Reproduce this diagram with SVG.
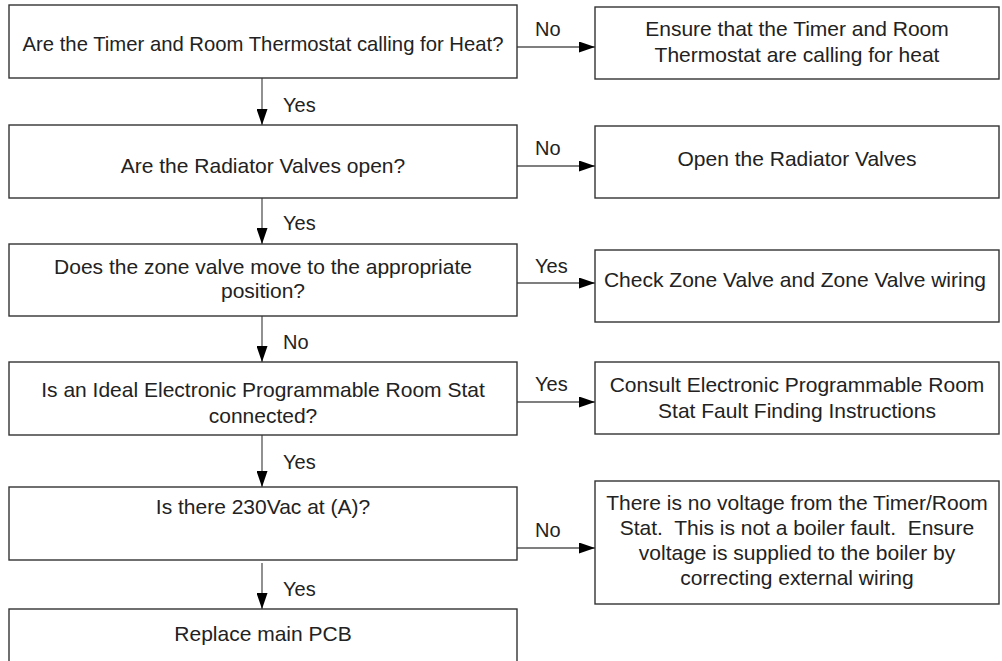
<svg xmlns="http://www.w3.org/2000/svg" width="1002" height="661" viewBox="0 0 1002 661">
<style>
.box{fill:#fff;stroke:#333;stroke-width:1.4}
.t{font-family:"Liberation Sans",Arial,sans-serif;font-size:21px;fill:#222;text-anchor:middle}
.l{font-family:"Liberation Sans",Arial,sans-serif;font-size:20px;fill:#222}
.c{stroke:#555;stroke-width:1.3;fill:none;marker-end:url(#ah)}
</style>
<defs>
<marker id="ah" viewBox="0 0 16 11" refX="16" refY="5.5" markerWidth="16" markerHeight="11" markerUnits="userSpaceOnUse" orient="auto">
<path d="M0,0 L16,5.5 L0,11 Z" fill="#000"/>
</marker>
</defs>
<rect width="1002" height="661" fill="#fff"/>
<g id="connectors">
<line class="c" x1="517" y1="47" x2="595" y2="47"/>
<line class="c" x1="262" y1="78" x2="262" y2="125"/>
<line class="c" x1="517" y1="166" x2="595" y2="166"/>
<line class="c" x1="262" y1="198" x2="262" y2="244"/>
<line class="c" x1="517" y1="283" x2="595" y2="283"/>
<line class="c" x1="262" y1="316" x2="262" y2="362"/>
<line class="c" x1="517" y1="402" x2="595" y2="402"/>
<line class="c" x1="262" y1="435" x2="262" y2="487"/>
<line class="c" x1="517" y1="548" x2="595" y2="548"/>
<line class="c" x1="262" y1="563" x2="262" y2="609"/>
<text class="l" x="535" y="36">No</text>
<text class="l" x="283" y="112">Yes</text>
<text class="l" x="535" y="155">No</text>
<text class="l" x="283" y="230">Yes</text>
<text class="l" x="535" y="273">Yes</text>
<text class="l" x="283" y="349">No</text>
<text class="l" x="535" y="391">Yes</text>
<text class="l" x="283" y="469">Yes</text>
<text class="l" x="535" y="537">No</text>
<text class="l" x="283" y="596">Yes</text>
</g>
<g id="q1"><rect class="box" x="9" y="5" width="508" height="73"/><text class="t" x="263" y="51" style="font-size:20.3px">Are the Timer and Room Thermostat calling for Heat?</text></g>
<g id="a1"><rect class="box" x="595" y="7" width="404" height="72"/><text class="t" x="797" y="36">Ensure that the Timer and Room</text><text class="t" x="797" y="62">Thermostat are calling for heat</text></g>
<g id="q2"><rect class="box" x="9" y="125" width="508" height="73"/><text class="t" x="263" y="173">Are the Radiator Valves open?</text></g>
<g id="a2"><rect class="box" x="595" y="126" width="404" height="72"/><text class="t" x="797" y="166">Open the Radiator Valves</text></g>
<g id="q3"><rect class="box" x="9" y="244" width="508" height="72"/><text class="t" x="263" y="274">Does the zone valve move to the appropriate</text><text class="t" x="263" y="298">position?</text></g>
<g id="a3"><rect class="box" x="595" y="250" width="404" height="72"/><text class="t" x="795" y="287">Check Zone Valve and Zone Valve wiring</text></g>
<g id="q4"><rect class="box" x="9" y="362" width="508" height="73"/><text class="t" x="263" y="397">Is an Ideal Electronic Programmable Room Stat</text><text class="t" x="263" y="423">connected?</text></g>
<g id="a4"><rect class="box" x="595" y="362" width="404" height="72"/><text class="t" x="797" y="392">Consult Electronic Programmable Room</text><text class="t" x="797" y="418">Stat Fault Finding Instructions</text></g>
<g id="q5"><rect class="box" x="9" y="487" width="508" height="73"/><text class="t" x="263" y="514">Is there 230Vac at (A)?</text></g>
<g id="a5"><rect class="box" x="595" y="481" width="404" height="123"/><text class="t" x="797" y="510">There is no voltage from the Timer/Room</text><text class="t" x="797" y="535" xml:space="preserve">Stat.  This is not a boiler fault.  Ensure</text><text class="t" x="797" y="560">voltage is supplied to the boiler by</text><text class="t" x="797" y="585">correcting external wiring</text></g>
<g id="end"><rect class="box" x="9" y="609" width="508" height="80"/><text class="t" x="263" y="641">Replace main PCB</text></g>
</svg>
